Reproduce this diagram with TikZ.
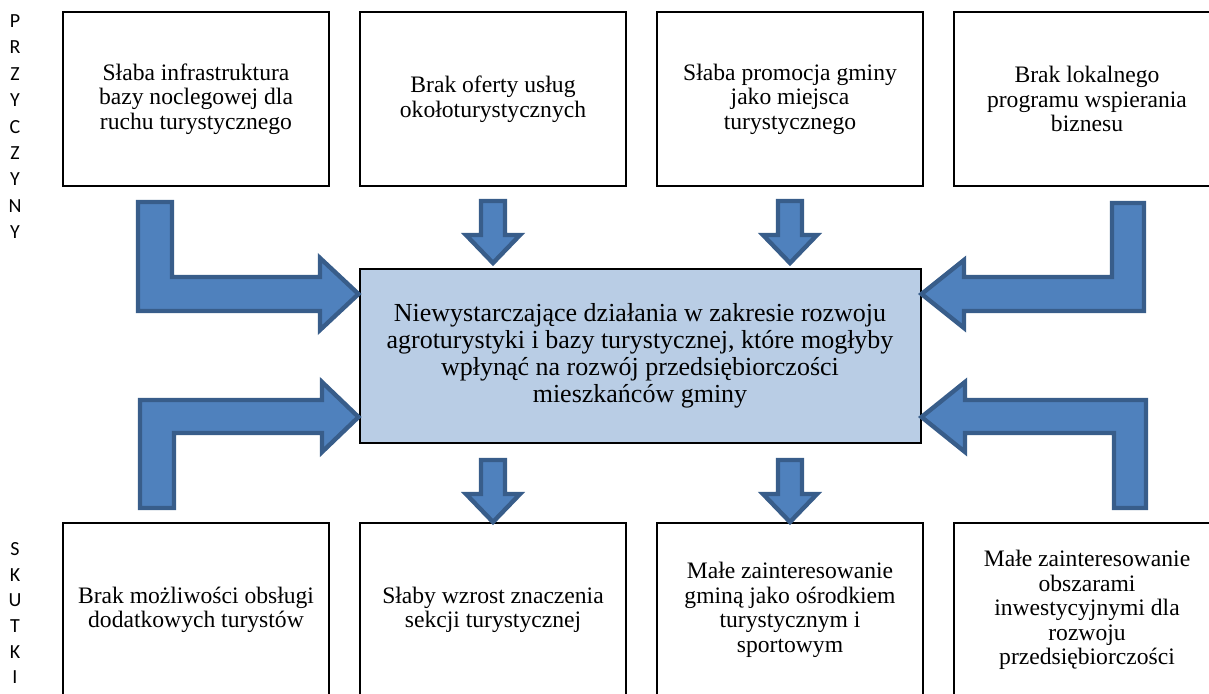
\documentclass[tikz,border=0pt]{standalone}
\usepackage{fontspec}
\setmainfont{Liberation Serif}
\newfontfamily\calibri{Carlito}
\usetikzlibrary{calc}

\definecolor{arrfill}{RGB}{79,129,189}
\definecolor{arrline}{RGB}{56,93,138}
\definecolor{probfill}{RGB}{185,205,229}

\tikzset{
  box/.style={draw=black, line width=1pt, minimum width=133pt, minimum height=87pt,
              align=center, font=\fontsize{11.8}{12.3}\selectfont},
  probbox/.style={box, fill=probfill, minimum width=280.5pt,
              font=\fontsize{13}{13.5}\selectfont},
  blockarrow/.style={fill=arrfill, draw=arrline, line width=2.2pt, line join=miter},
  downarr/.pic={\filldraw[blockarrow] (-12,-62) -- (12,-62) -- (12,-28) -- (27,-28)
                -- (0,0) -- (-27,-28) -- (-12,-28) -- cycle;},
  sidelabel/.style={font=\calibri\fontsize{10}{12}\selectfont, inner sep=0pt}
}

\begin{document}
\begin{tikzpicture}[x=0.5pt, y=-0.5pt]
    \useasboundingbox (0,0) rectangle (1209,693);
    \clip (0,0) rectangle (1209,693);

    % przyczyny
    \node[box] (c1) at (196,99) {Słaba infrastruktura\\bazy noclegowej dla\\ruchu turystycznego};
    \node[box] (c2) at (493,99) {Brak oferty usług\\okołoturystycznych};
    \node[box] (c3) at (790,99) {Słaba promocja gminy\\jako miejsca\\turystycznego};
    \node[box] (c4) at (1087,99) {Brak lokalnego\\programu wspierania\\biznesu};

    % problem główny
    \node[probbox] (p) at (640,356) {Niewystarczające działania w zakresie rozwoju\\agroturystyki i bazy turystycznej, które mogłyby\\wpłynąć na rozwój przedsiębiorczości\\mieszkańców gminy};

    % skutki
    \node[box] (s1) at (196,610) {Brak możliwości obsługi\\dodatkowych turystów};
    \node[box] (s2) at (493,610) {Słaby wzrost znaczenia\\sekcji turystycznej};
    \node[box] (s3) at (790,610) {Małe zainteresowanie\\gminą jako ośrodkiem\\turystycznym i\\sportowym};
    \node[box] (s4) at (1087,610) {Małe zainteresowanie\\obszarami\\inwestycyjnymi dla\\rozwoju\\przedsiębiorczości};

    % strzałki proste
    \pic at ($(c2.south |- p.north)+(0,-5)$) {downarr};
    \pic at ($(c3.south |- p.north)+(0,-5)$) {downarr};
    \pic at (s2.north) {downarr};
    \pic at (s3.north) {downarr};

    % strzałki łamane
    \filldraw[blockarrow] (138,202) -- (172,202) -- (172,277) -- (320,277) -- (320,258)
        -- (p.west |- 0,294) -- (320,330) -- (320,311) -- (138,311) -- cycle;
    \filldraw[blockarrow] (1144,203) -- (1112,203) -- (1112,277) -- (964,277) -- (964,260)
        -- (p.east |- 0,294) -- (964,328) -- (964,311) -- (1144,311) -- cycle;
    \filldraw[blockarrow] (140,508) -- (140,400) -- (322,400) -- (322,382)
        -- (p.west |- 0,417) -- (322,452) -- (322,433) -- (174,433) -- (174,508) -- cycle;
    \filldraw[blockarrow] (1146,508) -- (1146,400) -- (965,400) -- (965,382)
        -- (p.east |- 0,417) -- (965,452) -- (965,433) -- (1114,433) -- (1114,508) -- cycle;

    % napisy z boku
    \foreach \l [count=\i from 0] in {P,R,Z,Y,C,Z,Y,N,Y}
        \node[sidelabel] (lp\i) at (15,{21+26.4*\i}) {\l};
    \foreach \l [count=\i from 0] in {S,K,U,T,K,I}
        \node[sidelabel] (ls\i) at (15,{549+25.7*\i}) {\l};
\end{tikzpicture}
\end{document}
